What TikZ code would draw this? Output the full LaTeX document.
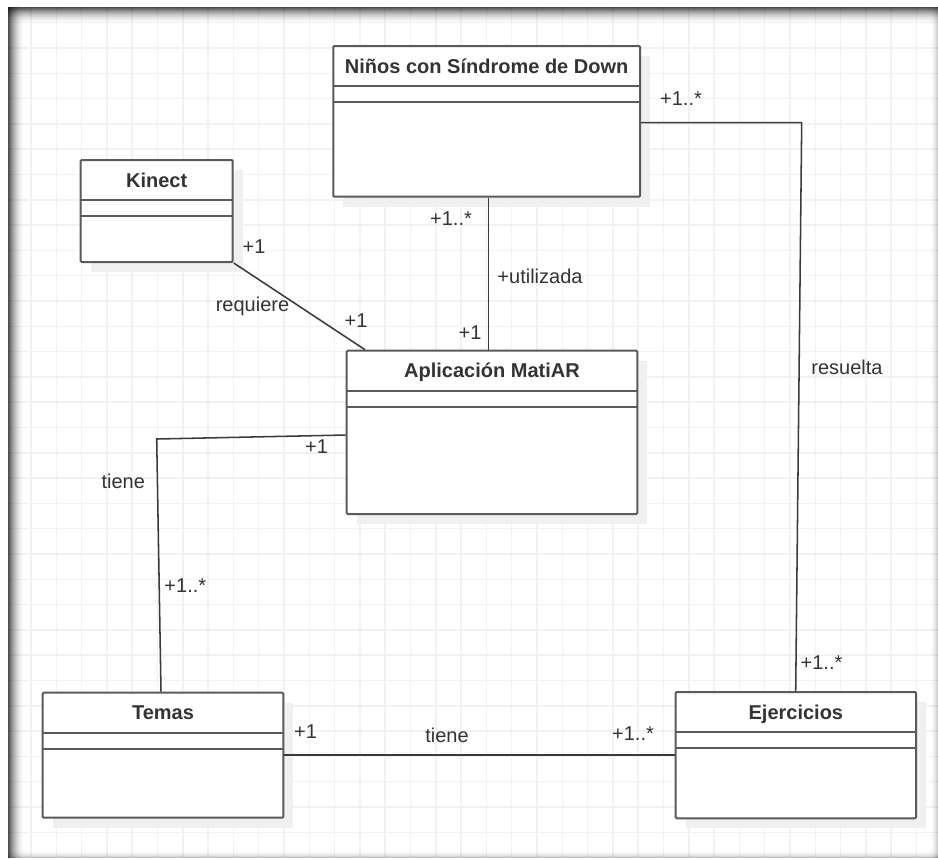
\documentclass[tikz,border=0pt]{standalone}
\usepackage{fontspec}
\setmainfont{Liberation Sans}
\usetikzlibrary{fit,calc}
\definecolor{gridc}{HTML}{F2F2F2}
\definecolor{boxc}{HTML}{5A5A5A}
\definecolor{linec}{HTML}{3A3A3A}
\definecolor{textc}{HTML}{333333}
\definecolor{shadowc}{HTML}{F0F0F0}

% one UML class: name, x1, y1, x2, y2, title
\newcommand\umlclass[6]{%
  \fill[shadowc] (#2+10,#3+10) rectangle (#4+10,#5+10);
  \node[classbox, fit={(#2,#3)(#4,#5)}] (#1) {};
  \draw[divider] (#2,#3+40) -- (#4,#3+40);
  \draw[divider] (#2,#3+56) -- (#4,#3+56);
  \node[classtitle] (#1-title) at ({(#2+#4)/2},#3+20) {#6};
}

\begin{document}
\begin{tikzpicture}[x=0.75pt,y=-0.75pt,
  classbox/.style={draw=boxc, line width=1.5pt, fill=white, inner sep=0pt, rounded corners=0.8pt},
  divider/.style={draw=boxc, line width=1.5pt},
  classtitle/.style={font=\fontsize{15}{18}\selectfont\bfseries, text=textc, inner sep=0pt, text height=10.75pt, text depth=0pt},
  lbl/.style={font=\fontsize{15}{18}\selectfont, text=textc, inner sep=0pt, text height=10.75pt, text depth=0pt},
  conn/.style={draw=linec, line width=1.15pt},
  gridline/.style={draw=gridc, line width=1.1pt}]

\useasboundingbox (0,0) rectangle (938,858);
\fill[white] (0,0) rectangle (938,858);

% canvas grid
\begin{scope}
  \clip (8,7) rectangle (938,858);
  \foreach \gx in {31,56.3,...,938} \draw[gridline] (\gx,7) -- (\gx,858);
  \foreach \gy in {22.7,48,...,858} \draw[gridline] (8,\gy) -- (938,\gy);
\end{scope}

% inner shadow of the canvas frame
\foreach \i in {0,...,16}{
  \pgfmathsetmacro\op{0.7*(1-\i/17)^2}
  \draw[black, opacity=\op, line width=0.75pt] (8.5+\i,7) -- (8.5+\i,858);
  \draw[black, opacity=\op, line width=0.75pt] (8,7.5+\i) -- (938,7.5+\i);
}
\foreach \i in {0,...,7}{
  \pgfmathsetmacro\op{0.2*(1-\i/8)^2}
  \draw[black, opacity=\op, line width=0.75pt] (937.5-\i,7) -- (937.5-\i,858);
  \draw[black, opacity=\op, line width=0.75pt] (8,857.5-\i) -- (938,857.5-\i);
}

% classes
\umlclass{ninos}{333.3}{46}{640}{196.7}{Niños con Síndrome de Down}
\umlclass{kinect}{80.7}{160}{232.7}{262}{Kinect}
\umlclass{app}{346.7}{350.7}{637.3}{514}{Aplicación MatiAR}
\umlclass{temas}{42.7}{692.7}{283.3}{817.7}{Temas}
\umlclass{ejer}{675.7}{692}{916}{818.3}{Ejercicios}

% associations
\draw[conn] (kinect.south east) -- (app.north -| 365,0);
\draw[conn] (ninos.south -| 488.3,0) -- (app.north -| 488.3,0);
\draw[conn] (ninos.east |- 0,122.7) -- (801.7,122.7) -- (ejer.north -| 795.7,0);
\draw[conn] (app.west |- 0,435) -- (156.7,439) -- (temas.north -| 161,0);
\draw[conn] (temas.east |- 0,755) -- (ejer.west |- 0,755);

% multiplicities and role names
\node[lbl] (l1) at (254,246) {+1};
\node[lbl] (l2) at (252.5,304) {requiere};
\node[lbl] (l3) at (356,320) {+1};
\node[lbl] (l4) at (451,218) {+1..*};
\node[lbl] (l5) at (540,276) {+utilizada};
\node[lbl] (l6) at (470,332.7) {+1};
\node[lbl] (l7) at (681,98) {+1..*};
\node[lbl] (l8) at (847,367) {resuelta};
\node[lbl] (l9) at (821.5,662.7) {+1..*};
\node[lbl] (l10) at (316.5,446.7) {+1};
\node[lbl] (l11) at (123.3,481.7) {tiene};
\node[lbl] (l12) at (185.3,585) {+1..*};
\node[lbl] (l13) at (305.5,731.7) {+1};
\node[lbl] (l14) at (447,735) {tiene};
\node[lbl] (l15) at (633,733) {+1..*};

\end{tikzpicture}
\end{document}
